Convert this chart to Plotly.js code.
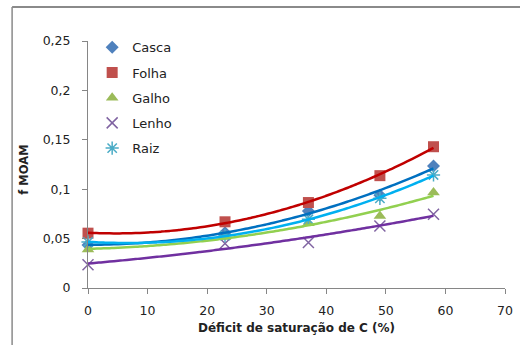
<!DOCTYPE html>
<html>
<head>
<meta charset="utf-8">
<script src="https://cdn.plot.ly/plotly-3.0.1.min.js"></script>
<style>html,body{margin:0;padding:0;background:#fff;}#chart{width:520px;height:345px;}</style>
</head>
<body>
<div id="chart"></div>
<script>
// Data
const deficit = [0, 23, 37, 49, 58];
const seriesNames = ["Casca", "Folha", "Galho", "Lenho", "Raiz"];
const casca = [0.0435, 0.056, 0.078, 0.094, 0.1235];
const folha = [0.0555, 0.067, 0.0865, 0.1137, 0.143];
const galho = [0.039, 0.0515, 0.0655, 0.073, 0.0966];
const lenho = [0.0235, 0.045, 0.046, 0.0628, 0.0747];
const raiz = [0.0465, 0.053, 0.0695, 0.0908, 0.1144];
const xTickVals = [0, 10, 20, 30, 40, 50, 60, 70];
const yTickVals = [0, 0.05, 0.1, 0.15, 0.2, 0.25];

const allValues = [casca, folha, galho, lenho, raiz];
const markerStyles = [
  {symbol: "diamond", size: 10, color: "#4F81BD"},
  {symbol: "square", size: 11, color: "#C0504D"},
  {symbol: "triangle-up", size: 11, color: "#9BBB59"},
  {symbol: "x-thin-open", size: 11, color: "#8064A2", line: {color: "#8064A2", width: 1.5}},
  {symbol: "asterisk-open", size: 11, color: "#4BACC6", line: {color: "#4BACC6", width: 1.5}}
];
const trendColors = ["#0070C0", "#C00000", "#92D050", "#7030A0", "#00B0F0"];

// quadratic least-squares trendline (as in the spreadsheet's polynomial trendline)
function quadFit(xs, ys) {
  let S = [0,0,0,0,0], T = [0,0,0];
  for (let i = 0; i < xs.length; i++) {
    let p = 1;
    for (let k = 0; k < 5; k++) { S[k] += p; if (k < 3) T[k] += p * ys[i]; p *= xs[i]; }
  }
  const A = [[S[0],S[1],S[2],T[0]],[S[1],S[2],S[3],T[1]],[S[2],S[3],S[4],T[2]]];
  for (let c = 0; c < 3; c++) {
    for (let r = c + 1; r < 3; r++) {
      const f = A[r][c] / A[c][c];
      for (let k = c; k < 4; k++) A[r][k] -= f * A[c][k];
    }
  }
  const b = [0,0,0];
  for (let r = 2; r >= 0; r--) {
    let s = A[r][3];
    for (let k = r + 1; k < 3; k++) s -= A[r][k] * b[k];
    b[r] = s / A[r][r];
  }
  return b;
}

const traces = [];
seriesNames.forEach((name, i) => {
  traces.push({
    type: "scatter", mode: "markers", name: name, x: deficit, y: allValues[i],
    legendgroup: name, marker: markerStyles[i], cliponaxis: false
  });
});
seriesNames.forEach((name, i) => {
  const c = quadFit(deficit, allValues[i]);
  const x0 = Math.min(...deficit), x1 = Math.max(...deficit);
  const xs = [], ys = [];
  for (let k = 0; k <= 80; k++) {
    const x = x0 + (x1 - x0) * k / 80;
    xs.push(x); ys.push(c[0] + c[1] * x + c[2] * x * x);
  }
  traces.push({
    type: "scatter", mode: "lines", x: xs, y: ys, showlegend: false,
    hoverinfo: "skip", line: {color: trendColors[i], width: 2.5, shape: "spline"}
  });
});

const font = "DejaVu Sans, sans-serif";
const layout = {
  width: 520, height: 345,
  margin: {l: 88, r: 15, t: 41, b: 57},
  paper_bgcolor: "#ffffff", plot_bgcolor: "#ffffff",
  separators: ",.",
  font: {family: font, size: 12, color: "#222"},
  showlegend: true,
  legend: {
    x: 0.01, y: 1.035, xanchor: "left", yanchor: "top",
    font: {family: font, size: 13, color: "#222"},
    tracegroupgap: 5.3, bgcolor: "rgba(0,0,0,0)", itemwidth: 30
  },
  xaxis: {
    range: [0, 70], tickvals: xTickVals, showgrid: false, zeroline: false,
    showline: true, linecolor: "#868686", linewidth: 1,
    ticks: "outside", ticklen: 5, tickcolor: "#868686",
    tickfont: {family: font, size: 12.5, color: "#222"}, ticklabelstandoff: 6
  },
  yaxis: {
    range: [0, 0.25], tickvals: yTickVals, showgrid: false, zeroline: false,
    showline: true, linecolor: "#868686", linewidth: 1,
    ticks: "outside", ticklen: 5, tickcolor: "#868686",
    tickfont: {family: font, size: 12.5, color: "#222"}, ticklabelstandoff: 9
  },
  annotations: [
    {text: "<b>f MOAM</b>", xref: "paper", yref: "paper", x: -0.153, y: 0.48,
     xanchor: "center", yanchor: "middle", textangle: -90, showarrow: false,
     font: {family: font, size: 11.5, color: "#222"}},
    {text: "<b>Déficit de saturação de C (%)</b>", xref: "paper", yref: "paper", x: 0.5, y: -0.162,
     xanchor: "center", yanchor: "middle", showarrow: false,
     font: {family: font, size: 12, color: "#222"}}
  ],
  shapes: [
    {type: "line", xref: "paper", yref: "paper", x0: -0.182, x1: -0.182, y0: 1.138, y1: -0.3,
     line: {color: "#8a8a8a", width: 1.5}},
    {type: "line", xref: "paper", yref: "paper", x0: -0.182, x1: 1.1, y0: 1.138, y1: 1.138,
     line: {color: "#8a8a8a", width: 2}}
  ]
};

Plotly.newPlot("chart", traces, layout, {displayModeBar: false, staticPlot: true});
</script>
</body>
</html>
